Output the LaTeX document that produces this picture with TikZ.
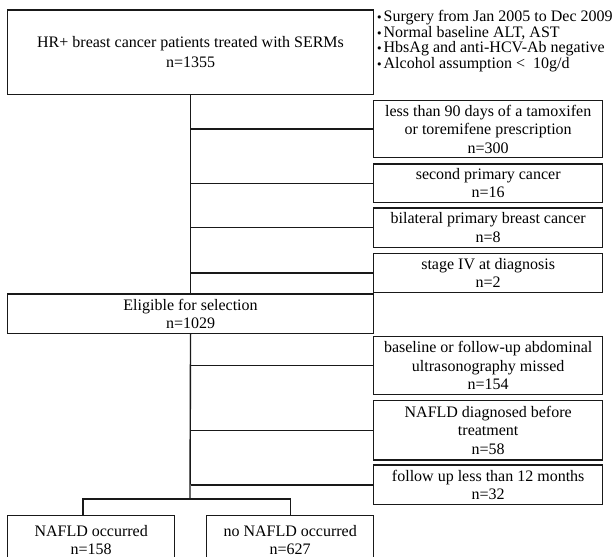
\documentclass[tikz,border=0pt]{standalone}
\usepackage{fontspec}
\setmainfont{Liberation Serif}
\newfontfamily\djvfont{DejaVu Sans}
\newcommand{\bulmark}{{\djvfont\fontsize{11}{11}\selectfont •}\kern1pt}
\begin{document}
\begin{tikzpicture}[x=1pt,y=-1pt,
  box/.style={draw=black!90, line width=1.4pt, align=center, inner sep=0pt, anchor=north west, font=\fontsize{16}{18.5}\selectfont},
  conn/.style={draw=black!90, line width=1.4pt},
  bul/.style={align=left, inner sep=0pt, anchor=north west, font=\fontsize{16}{15.4}\selectfont}]
\useasboundingbox (0,0) rectangle (614,557);
\node[box, minimum width=365.7pt, minimum height=84.7pt] (top) at (7,9.3) {HR+ breast cancer patients treated with SERMs\\[1.5pt] n=1355};
\node[bul] (crit) at (376,10.5) {\bulmark Surgery from Jan 2005 to Dec 2009\\
\bulmark Normal baseline ALT, AST\\
\bulmark HbsAg and anti-HCV-Ab negative\\
\bulmark Alcohol assumption < \ 10g/d};
\node[box, minimum width=229pt, minimum height=56.7pt] (b1) at (373,100) {less than 90 days of a tamoxifen\\or toremifene prescription\\n=300};
\node[box, minimum width=229pt, minimum height=38.4pt] (b2) at (373,163.3) {second primary cancer\\n=16};
\node[box, minimum width=229pt, minimum height=39.4pt] (b3) at (373,207.3) {bilateral primary breast cancer\\n=8};
\node[box, minimum width=229pt, minimum height=39pt] (b4) at (373,252.7) {stage IV at diagnosis\\n=2};
\node[box, minimum width=365.7pt, minimum height=39.4pt] (elig) at (7,293.3) {Eligible for selection\\n=1029};
\node[box, minimum width=229pt, minimum height=58pt] (b5) at (373,336) {baseline or follow-up abdominal\\ultrasonography missed\\n=154};
\node[box, minimum width=229pt, minimum height=59.3pt] (b6) at (373,400) {NAFLD diagnosed before\\treatment\\n=58};
\node[box, minimum width=229pt, minimum height=39.7pt] (b7) at (373,464.3) {follow up less than 12 months\\n=32};
\node[box, minimum width=167pt, minimum height=49pt] (occ) at (7,515) {NAFLD occurred\\n=158};
\node[box, minimum width=167pt, minimum height=49pt] (nocc) at (206,515) {no NAFLD occurred\\n=627};
\coordinate (j) at (190,499);
\draw[conn] (top.south) -- (elig.north);
\draw[conn] (elig.south) -- (j);
\foreach \b in {b1,b2,b3,b4}{\draw[conn] (\b.west -| top.south) -- (\b.west);}
\foreach \b in {b5,b6,b7}{\draw[conn] (\b.west -| elig.south) -- (\b.west);}
\draw[conn] ([xshift=-8.2pt]occ.north) |- (j) -| (nocc.north);
\end{tikzpicture}
\end{document}
